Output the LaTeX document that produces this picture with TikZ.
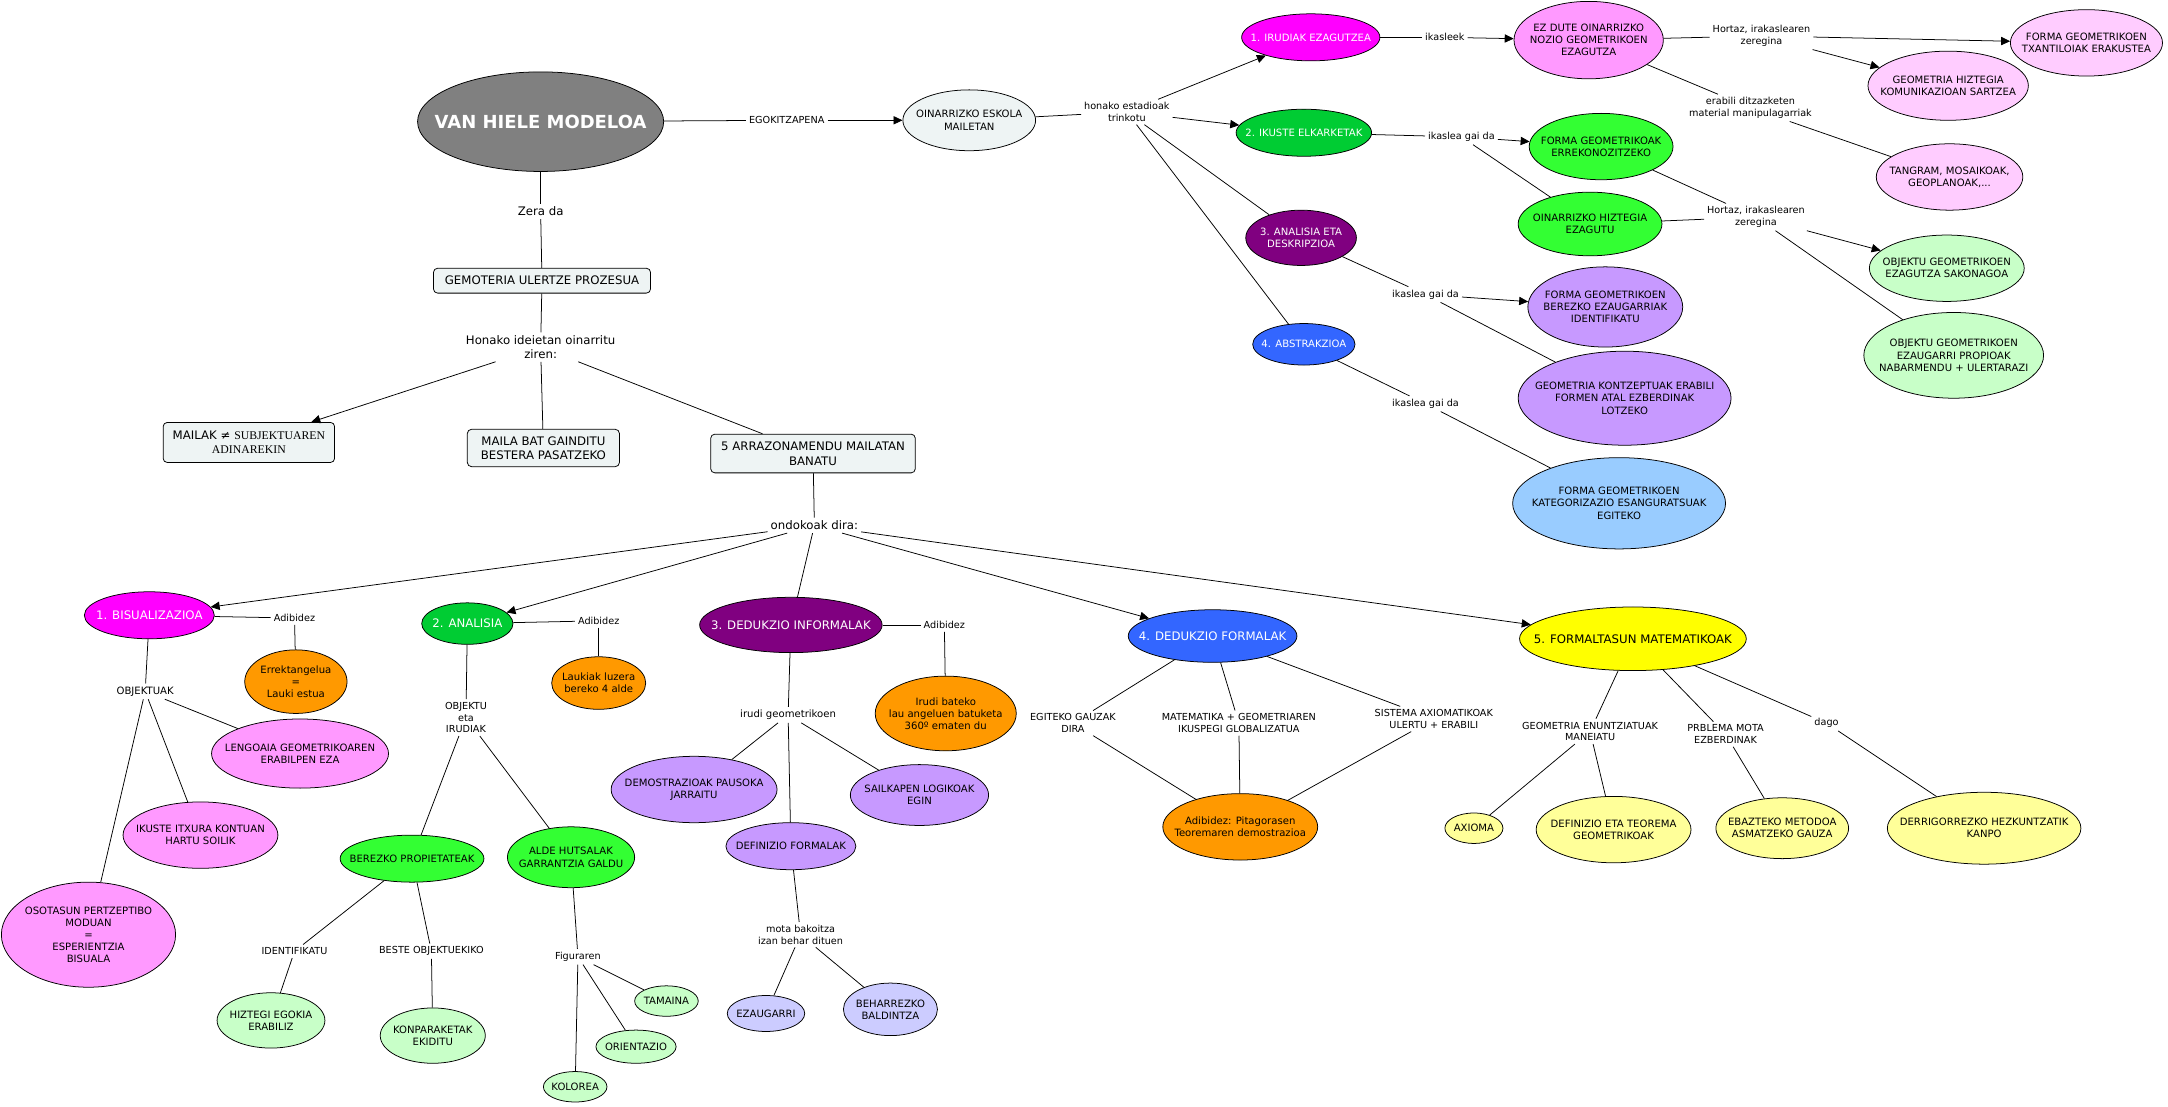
\documentclass[tikz,border=0pt]{standalone}
\usepackage{fontspec}
\setmainfont{DejaVu Sans}
\newfontfamily\timesfont{Liberation Serif}
\usetikzlibrary{shapes.geometric,arrows.meta}

\definecolor{vhgray}{HTML}{808080}
\definecolor{boxfill}{HTML}{EEF4F4}
\definecolor{lvlmag}{HTML}{FF00FF}
\definecolor{magsoft}{HTML}{FF99FF}
\definecolor{magpale}{HTML}{FFCCFF}
\definecolor{lvlgreen}{HTML}{00CC33}
\definecolor{greenmid}{HTML}{33FF33}
\definecolor{greenpale}{HTML}{C8FFC8}
\definecolor{lvlpurple}{HTML}{800080}
\definecolor{lilac}{HTML}{C799FF}
\definecolor{lvlblue}{HTML}{3366FF}
\definecolor{skyblue}{HTML}{99CCFF}
\definecolor{orangefill}{HTML}{FF9900}
\definecolor{lvlyellow}{HTML}{FFFF00}
\definecolor{yellowpale}{HTML}{FFFF99}
\definecolor{periwinkle}{HTML}{CCCCFF}

\tikzset{
  concept/.style n args={3}{ellipse, draw, fill=#1, minimum width=#2pt, minimum height=#3pt, inner sep=0pt},
  ctext/.style={align=center, inner sep=0pt, font=\fontsize{7.3}{8.8}\selectfont},
  lvltext/.style={ctext, font=\fontsize{8.5}{10}\selectfont},
  idea/.style={draw, rounded corners=3pt, fill=boxfill, align=center, inner sep=1pt, font=\fontsize{8.5}{10.5}\selectfont},
  link/.style={align=center, inner sep=2pt, font=\fontsize{7}{8.4}\selectfont},
  biglink/.style={link, font=\fontsize{8.5}{10.2}\selectfont},
  arr/.style={-{Triangle[length=6.5pt,width=6pt]}}
}

\begin{document}
\begin{tikzpicture}[x=1pt,y=-1pt,line width=0.55pt]
    \useasboundingbox (0,0) rectangle (1568,800);

    % goiko adarra
    \node[concept={vhgray}{178}{72}, label={[ctext,text=white,font=\fontsize{13}{15}\selectfont\bfseries]center:VAN HIELE MODELOA}] (vh) at (391,88) {};
    \node[link] (egok) at (569,87) {EGOKITZAPENA};
    \node[concept={boxfill}{96}{44}, label={[ctext]center:{OINARRIZKO ESKOLA\\MAILETAN}}] (oin) at (701,87) {};
    \node[link] (hon) at (815,81) {honako estadioak\\trinkotu};

    \node[concept={lvlmag}{100}{34}, label={[ctext,text=white]center:{1. IRUDIAK EZAGUTZEA}}] (irud) at (948,27) {};
    \node[link] (ikasleek) at (1045,27) {ikasleek};
    \node[concept={magsoft}{108}{56}, label={[ctext]center:{EZ DUTE OINARRIZKO\\NOZIO GEOMETRIKOEN\\EZAGUTZA}}] (ezdute) at (1149,29) {};
    \node[link] (hortaza) at (1274,26) {Hortaz, irakaslearen\\zeregina};
    \node[concept={magpale}{110}{48}, label={[ctext]center:{FORMA GEOMETRIKOEN\\TXANTILOIAK ERAKUSTEA}}] (txant) at (1509,31) {};
    \node[concept={magpale}{116}{50}, label={[ctext]center:{GEOMETRIA HIZTEGIA\\KOMUNIKAZIOAN SARTZEA}}] (hizteg) at (1409,62) {};
    \node[link] (erabili) at (1266,78) {erabili ditzazketen\\material manipulagarriak};
    \node[concept={magpale}{106}{48}, label={[ctext]center:{TANGRAM, MOSAIKOAK,\\GEOPLANOAK,...}}] (tangram) at (1410,128) {};

    \node[concept={lvlgreen}{98}{34}, label={[ctext,text=white]center:{2. IKUSTE ELKARKETAK}}] (ikuse) at (943,96) {};
    \node[link] (gaidaa) at (1057,99) {ikaslea gai da};
    \node[concept={greenmid}{104}{48}, label={[ctext]center:{FORMA GEOMETRIKOAK\\ERREKONOZITZEKO}}] (errekon) at (1158,106) {};
    \node[concept={greenmid}{104}{46}, label={[ctext]center:{OINARRIZKO HIZTEGIA\\EZAGUTU}}] (oinhiz) at (1150,162) {};
    \node[link] (hortazb) at (1270,157) {Hortaz, irakaslearen\\zeregina};
    \node[concept={greenpale}{112}{48}, label={[ctext]center:{OBJEKTU GEOMETRIKOEN\\EZAGUTZA SAKONAGOA}}] (sakon) at (1408,194) {};
    \node[concept={greenpale}{130}{62}, label={[ctext]center:{OBJEKTU GEOMETRIKOEN\\EZAUGARRI PROPIOAK\\NABARMENDU + ULERTARAZI}}] (propio) at (1413,257) {};

    \node[concept={lvlpurple}{80}{40}, label={[ctext,text=white]center:{3. ANALISIA ETA\\DESKRIPZIOA}}] (analdesk) at (941,172) {};
    \node[link] (gaidab) at (1031,213) {ikaslea gai da};
    \node[concept={lilac}{112}{58}, label={[ctext]center:{FORMA GEOMETRIKOEN\\BEREZKO EZAUGARRIAK\\IDENTIFIKATU}}] (berezk) at (1161,222) {};
    \node[concept={lilac}{154}{68}, label={[ctext]center:{GEOMETRIA KONTZEPTUAK ERABILI\\FORMEN ATAL EZBERDINAK\\LOTZEKO}}] (kontz) at (1175,288) {};

    \node[concept={lvlblue}{74}{30}, label={[ctext,text=white]center:{4. ABSTRAKZIOA}}] (abstr) at (943,249) {};
    \node[link] (gaidac) at (1031,292) {ikaslea gai da};
    \node[concept={skyblue}{154}{66}, label={[ctext]center:{FORMA GEOMETRIKOEN\\KATEGORIZAZIO ESANGURATSUAK\\EGITEKO}}] (kateg) at (1171,364) {};

    % ezkerreko adarra
    \node[biglink] (zera) at (391,153) {Zera da};
    \node[idea, minimum width=157pt, minimum height=18pt] (gemot) at (392,203) {GEMOTERIA ULERTZE PROZESUA};
    \node[biglink] (honako) at (391,251) {Honako ideietan oinarritu\\ziren:};
    \node[idea, minimum width=124pt, minimum height=29pt] (mailak) at (180,320) {MAILAK ≠ {\timesfont SUBJEKTUAREN}\\{\timesfont ADINAREKIN}};
    \node[idea, minimum width=110pt, minimum height=27pt] (mailabat) at (393,324) {MAILA BAT GAINDITU\\BESTERA PASATZEKO};
    \node[idea, minimum width=148pt, minimum height=28pt] (arraz) at (588,328) {5 ARRAZONAMENDU MAILATAN\\BANATU};
    \node[biglink] (ondok) at (589,380) {ondokoak dira:};

    % 1. maila
    \node[concept={lvlmag}{94}{34}, label={[lvltext,text=white]center:{1. BISUALIZAZIOA}}] (bisu) at (108,445) {};
    \node[link] (adiba) at (213,447) {Adibidez};
    \node[concept={orangefill}{74}{46}, label={[ctext]center:{Errektangelua\\=\\Lauki estua}}] (errekt) at (214,493) {};
    \node[link, font=\fontsize{7.3}{8.8}\selectfont] (objk) at (105,500) {OBJEKTUAK};
    \node[concept={magsoft}{128}{50}, label={[ctext]center:{LENGOAIA GEOMETRIKOAREN\\ERABILPEN EZA}}] (lengo) at (217,545) {};
    \node[concept={magsoft}{112}{48}, label={[ctext]center:{IKUSTE ITXURA KONTUAN\\HARTU SOILIK}}] (itxura) at (145,604) {};
    \node[concept={magsoft}{126}{76}, label={[ctext]center:{OSOTASUN PERTZEPTIBO\\MODUAN\\=\\ESPERIENTZIA\\BISUALA}}] (osot) at (64,676) {};

    % 2. maila
    \node[concept={lvlgreen}{66}{30}, label={[lvltext,text=white]center:{2. ANALISIA}}] (anali) at (338,451) {};
    \node[link] (adibb) at (433,449) {Adibidez};
    \node[concept={orangefill}{68}{38}, label={[ctext]center:{Laukiak luzera\\bereko 4 alde}}] (laukiak) at (433,494) {};
    \node[link] (objir) at (337,519) {OBJEKTU\\eta\\IRUDIAK};
    \node[concept={greenmid}{104}{34}, label={[ctext]center:{BEREZKO PROPIETATEAK}}] (berezp) at (298,621) {};
    \node[concept={greenmid}{92}{44}, label={[ctext]center:{ALDE HUTSALAK\\GARRANTZIA GALDU}}] (aldeh) at (413,620) {};
    \node[link] (ident) at (213,688) {IDENTIFIKATU};
    \node[link] (beste) at (312,688) {BESTE OBJEKTUEKIKO};
    \node[concept={greenpale}{78}{40}, label={[ctext]center:{HIZTEGI EGOKIA\\ERABILIZ}}] (hizeg) at (196,738) {};
    \node[concept={greenpale}{76}{40}, label={[ctext]center:{KONPARAKETAK\\EKIDITU}}] (konpar) at (313,749) {};
    \node[link] (figur) at (418,692) {Figuraren};
    \node[concept={greenpale}{46}{22}, label={[ctext]center:{TAMAINA}}] (tamaina) at (482,724) {};
    \node[concept={greenpale}{58}{24}, label={[ctext]center:{ORIENTAZIO}}] (orient) at (460,757) {};
    \node[concept={greenpale}{46}{22}, label={[ctext]center:{KOLOREA}}] (kolor) at (416,786) {};

    % 3. maila
    \node[concept={lvlpurple}{132}{40}, label={[lvltext,text=white]center:{3. DEDUKZIO INFORMALAK}}] (dedinf) at (572,452) {};
    \node[link] (adibc) at (683,452) {Adibidez};
    \node[concept={orangefill}{102}{54}, label={[ctext]center:{Irudi bateko\\lau angeluen batuketa\\360º ematen du}}] (irudib) at (684,516) {};
    \node[link, font=\fontsize{7.3}{8.8}\selectfont] (irgeo) at (570,517) {irudi geometrikoen};
    \node[concept={lilac}{120}{48}, label={[ctext]center:{DEMOSTRAZIOAK PAUSOKA\\JARRAITU}}] (demos) at (502,571) {};
    \node[concept={lilac}{100}{44}, label={[ctext]center:{SAILKAPEN LOGIKOAK\\EGIN}}] (sailk) at (665,575) {};
    \node[concept={lilac}{94}{34}, label={[ctext]center:{DEFINIZIO FORMALAK}}] (defin) at (572,612) {};
    \node[link] (mota) at (579,676) {mota bakoitza\\izan behar dituen};
    \node[concept={periwinkle}{56}{26}, label={[ctext]center:{EZAUGARRI}}] (ezaug) at (554,733) {};
    \node[concept={periwinkle}{68}{38}, label={[ctext]center:{BEHARREZKO\\BALDINTZA}}] (beharr) at (644,730) {};

    % 4. maila
    \node[concept={lvlblue}{122}{38}, label={[lvltext,text=white]center:{4. DEDUKZIO FORMALAK}}] (dedfor) at (877,460) {};
    \node[link] (egit) at (776,523) {EGITEKO GAUZAK\\DIRA};
    \node[link] (matem) at (896,523) {MATEMATIKA + GEOMETRIAREN\\IKUSPEGI GLOBALIZATUA};
    \node[link] (sistem) at (1037,520) {SISTEMA AXIOMATIKOAK\\ULERTU + ERABILI};
    \node[concept={orangefill}{112}{48}, label={[ctext]center:{Adibidez: Pitagorasen\\Teoremaren demostrazioa}}] (pitag) at (897,598) {};

    % 5. maila
    \node[concept={lvlyellow}{164}{46}, label={[lvltext]center:{5. FORMALTASUN MATEMATIKOAK}}] (formal) at (1181,462) {};
    \node[link] (geoen) at (1150,529) {GEOMETRIA ENUNTZIATUAK\\MANEIATU};
    \node[link] (prbl) at (1248,531) {PRBLEMA MOTA\\EZBERDINAK};
    \node[link] (dago) at (1321,523) {dago};
    \node[concept={yellowpale}{42}{22}, label={[ctext]center:{AXIOMA}}] (axioma) at (1066,599) {};
    \node[concept={yellowpale}{112}{48}, label={[ctext]center:{DEFINIZIO ETA TEOREMA\\GEOMETRIKOAK}}] (definteo) at (1167,600) {};
    \node[concept={yellowpale}{96}{44}, label={[ctext]center:{EBAZTEKO METODOA\\ASMATZEKO GAUZA}}] (ebazt) at (1289,599) {};
    \node[concept={yellowpale}{140}{52}, label={[ctext]center:{DERRIGORREZKO HEZKUNTZATIK\\KANPO}}] (derrig) at (1435,599) {};

    % loturak: goian
    \draw (vh) -- (egok);
    \draw[arr] (egok) -- (oin);
    \draw (oin) -- (hon);
    \draw[arr] (hon) -- (irud);
    \draw[arr] (hon) -- (ikuse);
    \draw (hon) -- (analdesk);
    \draw (hon) -- (abstr);
    \draw (irud) -- (ikasleek);
    \draw[arr] (ikasleek) -- (ezdute);
    \draw (ezdute) -- (hortaza);
    \draw[arr] (hortaza) -- (txant);
    \draw[arr] (hortaza) -- (hizteg);
    \draw (ezdute) -- (erabili);
    \draw (erabili) -- (tangram);
    \draw (ikuse) -- (gaidaa);
    \draw[arr] (gaidaa) -- (errekon);
    \draw (gaidaa) -- (oinhiz);
    \draw (errekon) -- (hortazb);
    \draw (oinhiz) -- (hortazb);
    \draw[arr] (hortazb) -- (sakon);
    \draw (hortazb) -- (propio);
    \draw (analdesk) -- (gaidab);
    \draw[arr] (gaidab) -- (berezk);
    \draw (gaidab) -- (kontz);
    \draw (abstr) -- (gaidac);
    \draw (gaidac) -- (kateg);

    % loturak: ezkerrean
    \draw (vh) -- (zera);
    \draw (zera) -- (gemot);
    \draw (gemot) -- (honako);
    \draw[arr] (honako) -- (mailak);
    \draw (honako) -- (mailabat);
    \draw (honako) -- (arraz);
    \draw (arraz) -- (ondok);
    \draw[arr] (ondok) -- (bisu);
    \draw[arr] (ondok) -- (anali);
    \draw (ondok) -- (dedinf);
    \draw[arr] (ondok) -- (dedfor);
    \draw[arr] (ondok) -- (formal);

    % loturak: mailak
    \draw (bisu) -- (adiba);
    \draw (adiba) -- (errekt);
    \draw (bisu) -- (objk);
    \draw (objk) -- (lengo);
    \draw (objk) -- (itxura);
    \draw (objk) -- (osot);
    \draw (anali) -- (adibb);
    \draw (adibb) -- (laukiak);
    \draw (anali) -- (objir);
    \draw (objir) -- (berezp);
    \draw (objir) -- (aldeh);
    \draw (berezp) -- (ident);
    \draw (ident) -- (hizeg);
    \draw (berezp) -- (beste);
    \draw (beste) -- (konpar);
    \draw (aldeh) -- (figur);
    \draw (figur) -- (tamaina);
    \draw (figur) -- (orient);
    \draw (figur) -- (kolor);
    \draw (dedinf) -- (adibc);
    \draw (adibc) -- (irudib);
    \draw (dedinf) -- (irgeo);
    \draw (irgeo) -- (demos);
    \draw (irgeo) -- (sailk);
    \draw (irgeo) -- (defin);
    \draw (defin) -- (mota);
    \draw (mota) -- (ezaug);
    \draw (mota) -- (beharr);
    \draw (dedfor) -- (egit);
    \draw (dedfor) -- (matem);
    \draw (dedfor) -- (sistem);
    \draw (egit) -- (pitag);
    \draw (matem) -- (pitag);
    \draw (sistem) -- (pitag);
    \draw (formal) -- (geoen);
    \draw (geoen) -- (axioma);
    \draw (geoen) -- (definteo);
    \draw (formal) -- (prbl);
    \draw (prbl) -- (ebazt);
    \draw (formal) -- (dago);
    \draw (dago) -- (derrig);
\end{tikzpicture}
\end{document}
